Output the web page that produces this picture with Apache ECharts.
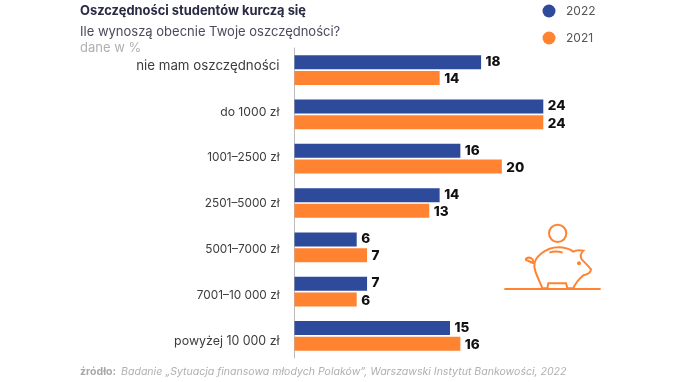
<!DOCTYPE html>
<html><head><meta charset="utf-8">
<script src="https://cdn.jsdelivr.net/npm/echarts@6/dist/echarts.min.js"></script>
<style>html,body{margin:0;background:#fff}#c{width:696px;height:382px}</style></head>
<body><div id="c"></div>
<script>
const categories = ["nie mam oszczędności","do 1000 zł","1001–2500 zł","2501–5000 zł","5001–7000 zł","7001–10 000 zł","powyżej 10 000 zł"];
const values2022 = [18,24,16,14,6,7,15];
const values2021 = [14,24,20,13,7,6,16];
const FONT = 'Inter';
const BLUE = '#2e4a9b', ORANGE = '#ff8330';
const labelSizes = [13.3,12.2,11.8,11.8,11.8,11.8,12.4];
echarts.graphic.registerShape('pig', echarts.graphic.extendPath('M157 235 C150 215 135 190 133 170 C130 140 170 112 205 112 C225 112 240 118 250 125 C258 120 270 120 280 122 C272 130 270 140 275 148 C285 158 295 168 303 178 C302 188 290 194 280 196 C270 205 258 215 250 235 L232 235 L228 220 L175 220 L172 235 Z M178 128 C190 124 205 124 218 128 M133 160 C125 158 115 152 108 150 C105 142 120 140 128 148 C132 155 125 160 120 156', {}));
const chart = echarts.init(document.getElementById('c'));
const barSeries = (name, data, color, dy) => ({
  name, type:'bar', data, barWidth:14, barGap:'12%', itemStyle:{color},
  xAxisIndex:0, yAxisIndex:0,
  label:{show:true, position:'right', distance:4.5, offset:[0,dy], color:'#111', fontFamily:FONT, fontWeight:800, fontSize:13.5},
  animation:false
});
chart.setOption({
  animation:false,
  backgroundColor:'#fff',
  title:[
    {text:'Oszczędności studentów kurczą się', left:80, top:5, padding:0, textStyle:{fontFamily:FONT, fontWeight:700, fontSize:12.9, color:'#2b2b45'}},
    {text:'Ile wynoszą obecnie Twoje oszczędności?', left:80, top:25.5, padding:0, textStyle:{fontFamily:FONT, fontWeight:400, fontSize:13, color:'#4a4a5e'}},
    {text:'dane w %', left:80, top:41.5, padding:0, textStyle:{fontFamily:FONT, fontWeight:400, fontSize:13, color:'#b0b0b0'}},
    {text:'{b|źródło:} {i|Badanie „Sytuacja finansowa młodych Polaków”, Warszawski Instytut Bankowości, 2022}', left:80, top:363, padding:0,
     textStyle:{rich:{
       b:{fontFamily:FONT, fontWeight:700, fontSize:10.55, color:'#a8a8a8'},
       i:{fontFamily:FONT, fontWeight:400, fontStyle:'italic', fontSize:10.55, color:'#b0b0b0'}}}}
  ],
  legend:{
    data:['2022','2021'], orient:'vertical', left:542.5, top:4.5, icon:'circle',
    itemWidth:13, itemHeight:13, itemGap:14, padding:0,
    textStyle:{fontFamily:FONT, fontSize:12, color:'#555', padding:[0,0,0,5.5]}
  },
  grid:[
    {left:294.5, top:48, width:311, height:310},
    {left:294.5, top:43.2, width:311, height:320.5}
  ],
  xAxis:[
    {type:'value', min:0, max:30, show:false, gridIndex:0},
    {type:'value', min:0, max:30, show:false, gridIndex:1}
  ],
  yAxis:[
    {type:'category', data:categories, inverse:true, gridIndex:0,
     axisLine:{show:true, lineStyle:{color:'#bbbbbb', width:1}}, axisTick:{show:false}, axisLabel:{show:false}},
    {type:'category', data:categories.map((value,i)=>({value, textStyle:{fontSize:labelSizes[i]}})), inverse:true, gridIndex:1,
     axisLine:{show:false}, axisTick:{show:false},
     axisLabel:{margin:15, interval:0, fontFamily:FONT, color:'#3c3c3c'}}
  ],
  series:[barSeries('2022',values2022,BLUE,-0.3), barSeries('2021',values2021,ORANGE,1.3)],
  graphic:[{
    type:'group', x:490, y:210, scaleX:1/3, scaleY:1/3, silent:true,
    children:[
      {type:'line', shape:{x1:43,y1:237,x2:332,y2:237}, style:{stroke:ORANGE, lineWidth:6.5}},
      {type:'circle', shape:{cx:203,cy:70,r:26}, style:{fill:'none', stroke:ORANGE, lineWidth:6}},
      {type:'pig', style:{fill:'none', stroke:ORANGE, lineWidth:6}},
      {type:'circle', shape:{cx:267,cy:160,r:6}, style:{fill:ORANGE}}
    ]
  }]
});
</script></body></html>
